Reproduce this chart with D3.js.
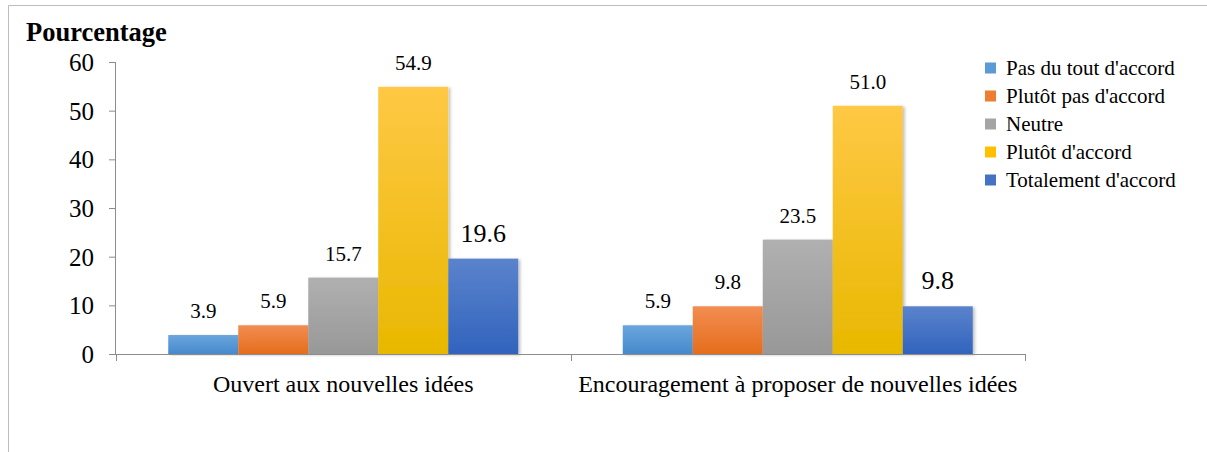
<!DOCTYPE html>
<html>
<head>
<meta charset="utf-8">
<script src="https://cdn.jsdelivr.net/npm/d3@7"></script>
</head>
<body style="margin:0;background:#fff">
<svg id="chart" width="1207" height="452"></svg>
<script>
// Survey results: share of respondents per agreement level
const categories = ["Ouvert aux nouvelles idées", "Encouragement à proposer de nouvelles idées"];
const seriesNames = ["Pas du tout d'accord", "Plutôt pas d'accord", "Neutre", "Plutôt d'accord", "Totalement d'accord"];
const pasDuTout = [3.9, 5.9];
const plutotPas = [5.9, 9.8];
const neutre = [15.7, 23.5];
const plutot = [54.9, 51.0];
const totalement = [19.6, 9.8];
const yTicks = [0, 10, 20, 30, 40, 50, 60];

const seriesValues = [pasDuTout, plutotPas, neutre, plutot, totalement];
const colors = [
  { top: "#6aa6dd", bottom: "#4689cc", legend: "#5b9bd5" },
  { top: "#f28d52", bottom: "#e56d1c", legend: "#ed7d31" },
  { top: "#b0b0b0", bottom: "#989898", legend: "#a5a5a5" },
  { top: "#ffc845", bottom: "#e8b800", legend: "#ffc000" },
  { top: "#5b83cc", bottom: "#3163bd", legend: "#4472c4" }
];
const SERIF = "'Liberation Serif'";

const svg = d3.select("#chart");

// outer frame (top and left edges)
svg.append("path")
  .attr("d", "M8.5,452 L8.5,5.5 L1207,5.5")
  .attr("fill", "none").attr("stroke", "#bdbdbd").attr("stroke-width", 1);

const plot = { left: 116, right: 1025, top: 62, bottom: 354 };

const x = d3.scaleBand().domain(categories).range([plot.left, plot.right]);
const xInner = d3.scaleBand().domain(d3.range(seriesNames.length))
  .range([0, 350]);
const y = d3.scaleLinear().domain([0, 60]).range([plot.bottom, plot.top]);

// vertical gradients and a soft shadow for the bars
const defs = svg.append("defs");
colors.forEach((c, i) => {
  const g = defs.append("linearGradient").attr("id", "grad" + i)
    .attr("x1", 0).attr("y1", 0).attr("x2", 0).attr("y2", 1);
  g.append("stop").attr("offset", "0%").attr("stop-color", c.top);
  g.append("stop").attr("offset", "100%").attr("stop-color", c.bottom);
});
const shadow = defs.append("filter").attr("id", "shadow")
  .attr("x", "-10%").attr("y", "-10%").attr("width", "130%").attr("height", "120%");
shadow.append("feDropShadow").attr("dx", 2).attr("dy", 1).attr("stdDeviation", 1.6)
  .attr("flood-color", "#000").attr("flood-opacity", 0.25);

// y axis
const yAxis = svg.append("g").attr("transform", `translate(${plot.left},0)`)
  .call(d3.axisLeft(y).tickValues(yTicks).tickSize(7).tickPadding(15));
yAxis.select(".domain").attr("stroke", "#8c8c8c").attr("d", `M-0.5,${plot.top}V${plot.bottom}`);
yAxis.selectAll(".tick line").attr("stroke", "#8c8c8c");
yAxis.selectAll(".tick text").style("font-family", SERIF).style("font-size", "25px")
  .attr("fill", "#000").attr("dy", "0.34em");

// bars
const groups = svg.append("g").selectAll("g").data(categories).join("g")
  .attr("transform", d => `translate(${x(d) + (x.bandwidth() - 350) / 2},0)`);

seriesValues.forEach((vals, si) => {
  groups.append("rect")
    .attr("x", xInner(si))
    .attr("width", xInner.bandwidth())
    .attr("y", (d, ci) => y(vals[ci]))
    .attr("height", (d, ci) => y(0) - y(vals[ci]))
    .attr("fill", `url(#grad${si})`)
    .attr("filter", "url(#shadow)");
});

// x axis drawn over bar bases
const xAxisG = svg.append("g").attr("transform", `translate(0,${plot.bottom})`);
xAxisG.append("line").attr("x1", plot.left).attr("x2", plot.right)
  .attr("y1", 0.5).attr("y2", 0.5).attr("stroke", "#8c8c8c");
const boundaries = [plot.left, ...categories.map(c => x(c) + x.bandwidth())];
xAxisG.selectAll(".xt").data(boundaries).join("line")
  .attr("x1", d => Math.round(d) + 0.5).attr("x2", d => Math.round(d) + 0.5)
  .attr("y1", 0).attr("y2", 7).attr("stroke", "#8c8c8c");
xAxisG.selectAll(".xl").data(categories).join("text")
  .attr("x", d => x(d) + x.bandwidth() / 2)
  .attr("y", 38)
  .attr("text-anchor", "middle")
  .style("font-family", SERIF).style("font-size", "24px").attr("fill", "#000")
  .text(d => d);

// value labels
seriesValues.forEach((vals, si) => {
  const big = si === seriesNames.length - 1;
  groups.append("text")
    .attr("x", xInner(si) + xInner.bandwidth() / 2)
    .attr("y", (d, ci) => y(vals[ci]) - 17)
    .attr("text-anchor", "middle")
    .style("font-family", SERIF).style("font-size", big ? "26px" : "21px")
    .attr("fill", "#000")
    .text((d, ci) => vals[ci].toFixed(1));
});

// y-axis title
svg.append("text").attr("x", 26).attr("y", 41)
  .style("font-family", SERIF).style("font-size", "26.5px").style("font-weight", "bold")
  .attr("fill", "#000")
  .text("Pourcentage");

// legend
const legend = svg.append("g").selectAll("g").data(seriesNames).join("g")
  .attr("transform", (d, i) => `translate(985,${68 + i * 28})`);
legend.append("rect").attr("x", 0).attr("y", -5.5).attr("width", 11).attr("height", 11)
  .attr("fill", (d, i) => colors[i].legend);
legend.append("text").attr("x", 21).attr("y", 7)
  .style("font-family", SERIF).style("font-size", "21px").attr("fill", "#000")
  .text(d => d);
</script>
</body>
</html>
